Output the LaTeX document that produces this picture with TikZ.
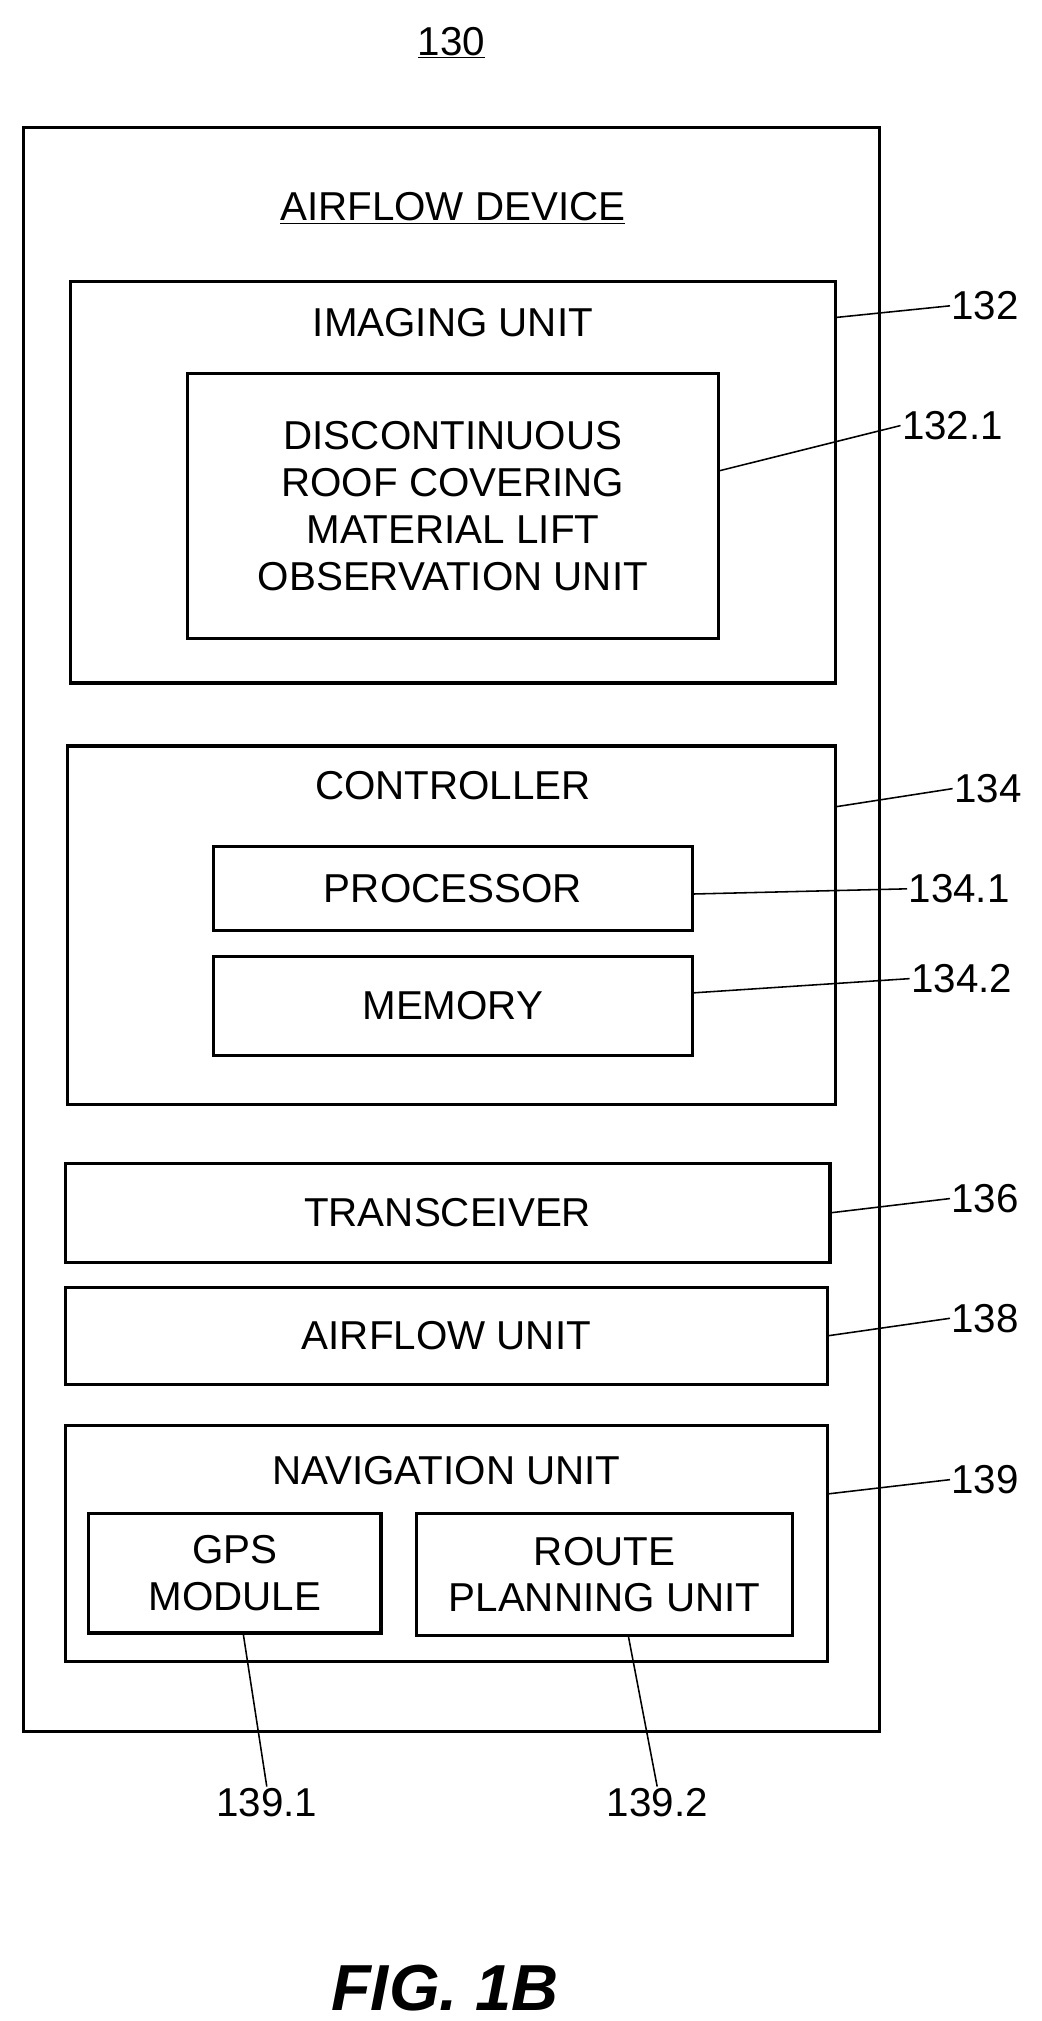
\documentclass[tikz,border=0pt]{standalone}
\usepackage{fontspec}
\setmainfont{Liberation Sans}
\usetikzlibrary{calc,positioning}
\tikzset{
        block/.style = {draw, rectangle, line width=2.4pt, inner sep=0pt,
            outer sep=0pt, align=center, font=\fontsize{31}{36}\selectfont},
        lead/.style = {draw, line width=1.2pt},
        refnum/.style = {font=\fontsize{31}{36}\selectfont, inner sep=1pt},
    }
\newcommand{\boxat}[6]{%
  \node[block, minimum width=#4pt-#2pt-2.4pt, minimum height=#5pt-#3pt-2.4pt, #6]
    at ({(#2+#4)/2*1pt}, {-(#3+#5)/2*1pt})}

\begin{document}
\begin{tikzpicture}[x=1pt,y=-1pt]
    \useasboundingbox (0,0) rectangle (800,1553);
    % outer device
    \boxat{dev}{17}{97}{677}{1332}{} (dev) {};
    \node[refnum] (title) at (347,33) {\underline{130}};
    \node[refnum] (devname) at (348,160) {\underline{AIRFLOW DEVICE}};

    % imaging unit
    \boxat{img}{53}{215}{643}{526}{} (img) {};
    \node[refnum] (imgname) at (348,248) {IMAGING UNIT};
    \boxat{obs}{143}{286}{553}{492}{} (obs) {DISCONTINUOUS\\ROOF COVERING\\MATERIAL LIFT\\OBSERVATION UNIT};

    % controller
    \boxat{ctl}{51}{572}{643}{850}{} (ctl) {};
    \node[refnum] (ctlname) at (348,604) {CONTROLLER};
    \boxat{proc}{163}{649}{533}{716}{} (proc) {PROCESSOR};
    \boxat{mem}{163}{734}{533}{812}{} (mem) {MEMORY};

    \boxat{trx}{49}{893}{639}{971}{} (trx) {TRANSCEIVER};
    \boxat{afu}{49}{988}{637}{1065}{} (afu) {AIRFLOW UNIT};

    % navigation
    \boxat{nav}{49}{1094}{637}{1278}{} (nav) {};
    \node[refnum] (navname) at (343,1130) {NAVIGATION UNIT};
    \boxat{gps}{67}{1162}{294}{1256}{} (gps) {GPS\\MODULE};
    \boxat{rpu}{319}{1162}{610}{1258}{} (rpu) {ROUTE\\PLANNING UNIT};

    % reference numerals
    \node[refnum, anchor=west] (n132) at (730,235) {132};
    \node[refnum, anchor=west] (n1321) at (692,327) {132.1};
    \node[refnum, anchor=west] (n134) at (732,606) {134};
    \node[refnum, anchor=west] (n1341) at (697,683) {134.1};
    \node[refnum, anchor=west] (n1342) at (699,752) {134.2};
    \node[refnum, anchor=west] (n136) at (730,921) {136};
    \node[refnum, anchor=west] (n138) at (730,1013) {138};
    \node[refnum, anchor=west] (n139) at (730,1137) {139};
    \node[refnum] (n1391) at (205,1385) {139.1};
    \node[refnum] (n1392) at (505,1385) {139.2};

    \draw[lead] (img.east |- 0,244) -- (n132.west);
    \draw[lead] (obs.east |- 0,362) -- (n1321.west);
    \draw[lead] (ctl.east |- 0,620) -- (n134.west);
    \draw[lead] (proc.east |- 0,687) -- (n1341.west);
    \draw[lead] (mem.east |- 0,763) -- (n1342.west);
    \draw[lead] (trx.east) -- (n136.west);
    \draw[lead] (afu.east) -- (n138.west);
    \draw[lead] (nav.east |- 0,1148) -- (n139.west);
    \draw[lead] (187,1256) -- (n1391.north);
    \draw[lead] (483,1258) -- (n1392.north);

    \node[font=\fontsize{50}{56}\selectfont\bfseries\itshape] (fig) at (342,1528) {FIG. 1B};
\end{tikzpicture}
\end{document}
